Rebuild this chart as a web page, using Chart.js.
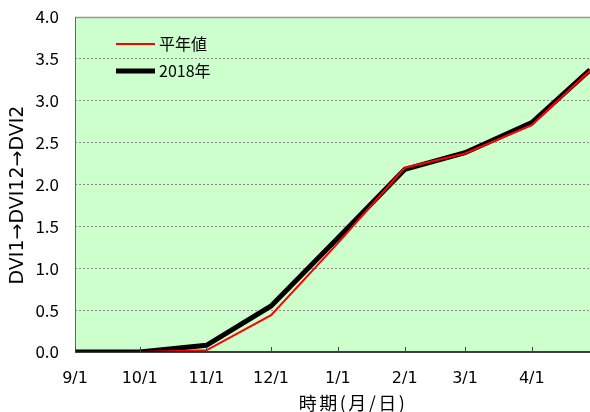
<!DOCTYPE html>
<html>
<head>
<meta charset="utf-8">
<script src="https://cdn.jsdelivr.net/npm/chart.js@4/dist/chart.umd.min.js"></script>
<style>
  html, body { margin: 0; padding: 0; background: #fff; }
  #wrap { width: 590px; height: 412px; }
</style>
</head>
<body>
<div id="wrap"><canvas id="myChart" width="590" height="412"></canvas></div>
<script>
// days counted from 9/1
const tickDays = [0, 30, 61, 91, 122, 153, 181, 212]
const tickLabels = ["9/1", "10/1", "11/1", "12/1", "1/1", "2/1", "3/1", "4/1"]
const pointDays = [0, 30, 61, 91, 122, 153, 181, 212, 239]
const normalValues = [0, 0, 0.02, 0.44, 1.30, 2.20, 2.37, 2.71, 3.36]
const y2018Values = [0, 0, 0.08, 0.55, 1.36, 2.18, 2.38, 2.74, 3.37]
const xTitle = "時期(月/日)"
const yTitle = "DVI1→DVI12→DVI2"

const JP = "'Noto Sans CJK JP', sans-serif"
const WIDE = "'DejaVu Sans', 'Noto Sans CJK JP', sans-serif"

const toXY = (vals) => vals.map((v, i) => ({ x: pointDays[i], y: v }))

// plot background, inner tick marks, borders, axis titles and the legend box
const decor = {
  id: "decor",
  beforeDraw(chart) {
    const { ctx, chartArea: a } = chart
    ctx.save()
    ctx.fillStyle = "#ccffcc"
    ctx.fillRect(a.left, a.top, a.right - a.left, a.bottom - a.top)
    ctx.restore()
  },
  afterDatasetsDraw(chart) {
    const { ctx, chartArea: a, scales } = chart
    ctx.save()
    // borders
    ctx.strokeStyle = "#999"
    ctx.lineWidth = 1.5
    ctx.beginPath()
    ctx.moveTo(a.left, a.top + 0.5)
    ctx.lineTo(a.right, a.top + 0.5)
    ctx.stroke()
    ctx.strokeStyle = "#666"
    ctx.lineWidth = 1
    ctx.beginPath()
    ctx.moveTo(a.left + 0.5, a.top)
    ctx.lineTo(a.left + 0.5, a.bottom)
    ctx.stroke()
    ctx.strokeStyle = "#000"
    ctx.lineWidth = 1.5
    ctx.beginPath()
    ctx.moveTo(a.left, a.bottom)
    ctx.lineTo(a.right, a.bottom)
    ctx.stroke()
    // x ticks pointing inward
    ctx.strokeStyle = "#444"
    ctx.lineWidth = 1
    tickDays.forEach((d) => {
      const x = Math.round(scales.x.getPixelForValue(d)) + 0.5
      ctx.beginPath()
      ctx.moveTo(x, a.bottom)
      ctx.lineTo(x, a.bottom - 5)
      ctx.stroke()
    })
    // axis titles
    ctx.fillStyle = "#000"
    ctx.textAlign = "center"
    ctx.textBaseline = "middle"
    ctx.font = "18px " + JP
    ctx.letterSpacing = "2.5px"
    ctx.fillText(xTitle, 353, 403)
    ctx.letterSpacing = "0px"
    ctx.save()
    ctx.translate(18, 195)
    ctx.rotate(-Math.PI / 2)
    ctx.font = "19px " + WIDE
    ctx.fillText(yTitle, 0, 0)
    ctx.restore()
    // legend
    ctx.textAlign = "left"
    ctx.font = "16px " + JP
    chart.data.datasets.forEach((ds, i) => {
      const y = 44 + i * 27
      ctx.strokeStyle = ds.borderColor
      ctx.lineWidth = ds.borderWidth
      ctx.beginPath()
      ctx.moveTo(116, y)
      ctx.lineTo(155, y)
      ctx.stroke()
      ctx.fillStyle = "#000"
      ctx.fillText(ds.label, 159, y)
    })
    ctx.restore()
  }
}

new Chart(document.getElementById("myChart"), {
  type: "line",
  data: {
    datasets: [
      {
        label: "平年値",
        data: toXY(normalValues),
        borderColor: "#ff0000",
        borderWidth: 2,
        pointRadius: 0,
        tension: 0
      },
      {
        label: "2018年",
        data: toXY(y2018Values),
        borderColor: "#000000",
        borderWidth: 5,
        pointRadius: 0,
        tension: 0
      }
    ]
  },
  options: {
    responsive: false,
    animation: false,
    layout: { padding: 0 },
    plugins: {
      legend: { display: false },
      tooltip: { enabled: false }
    },
    scales: {
      x: {
        type: "linear",
        min: 0,
        max: 239,
        afterBuildTicks: (scale) => {
          scale.ticks = tickDays.map((d) => ({ value: d }))
        },
        afterFit: (scale) => { scale.height = 60 },
        ticks: {
          autoSkip: false,
          maxRotation: 0,
          padding: 9,
          color: "#000",
          font: { size: 16, family: WIDE },
          callback: (v) => tickLabels[tickDays.indexOf(v)]
        },
        grid: { display: false },
        border: { display: false }
      },
      y: {
        min: 0,
        max: 4,
        afterFit: (scale) => {
          scale.width = 75
          scale.paddingTop = 17
        },
        ticks: {
          stepSize: 0.5,
          padding: 16,
          color: "#000",
          font: { size: 17, family: JP },
          callback: (v) => v.toFixed(1)
        },
        grid: {
          drawTicks: false,
          color: (c) => (c.tick.value === 0 || c.tick.value === 4) ? "rgba(0,0,0,0)" : "#888",
          lineWidth: 1
        },
        border: { display: false, dash: [2, 2] }
      }
    }
  },
  plugins: [decor]
})
</script>
</body>
</html>
